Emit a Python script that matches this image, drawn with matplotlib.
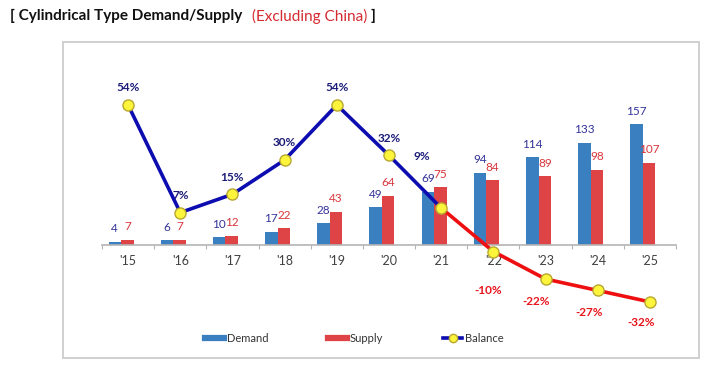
import numpy as np
import matplotlib.pyplot as plt
from matplotlib.lines import Line2D
from matplotlib.patches import Rectangle

years = ["'15", "'16", "'17", "'18", "'19", "'20", "'21", "'22", "'23", "'24", "'25"]
demand = [4, 6, 10, 17, 28, 49, 69, 94, 114, 133, 157]
supply = [7, 7, 12, 22, 43, 64, 75, 84, 89, 98, 107]
balance = [54, 7, 15, 30, 54, 32, 9, -10, -22, -27, -32]

# label offsets for the balance %, in pixels (dx, dy)
pct_off = [(0, 17)] * 6 + [(-19, 52), (-5, -39), (-9, -22), (-9, -22), (-9, -21)]

plt.rcParams['font.family'] = ['Lato', 'DejaVu Sans']

c_dem = '#3a80c0'
c_sup = '#de4446'
c_dem_txt = '#33339a'
c_sup_txt = '#d8353b'

fig = plt.figure(figsize=(7.2, 3.7), dpi=100)
W, H = 720, 370

# frame around the chart
fig.patches.append(Rectangle((63 / W, 1 - 358 / H), 636 / W, 316 / H, transform=fig.transFigure,
                             fill=False, edgecolor='#c8c8c8', linewidth=1.2))

ax = fig.add_axes([102 / W, 50 / H, 574 / W, 240 / H])
ax.set_xlim(-0.5, 10.5)
ax.set_ylim(-97.4, 214.3)

x = np.arange(len(years))
bw = 0.24
shift = -0.135
ax.bar(x + shift - bw / 2, demand, bw, color=c_dem, zorder=2)
ax.bar(x + shift + bw / 2, supply, bw, color=c_sup, zorder=2)

for i in range(len(years)):
    ax.annotate(str(demand[i]), (x[i] + shift - bw / 2, demand[i]), xytext=(0, 13 * 0.72),
                textcoords='offset points', ha='center', va='center', fontsize=8.5, color=c_dem_txt)
    ax.annotate(str(supply[i]), (x[i] + shift + bw / 2, supply[i]), xytext=(0, 13 * 0.72),
                textcoords='offset points', ha='center', va='center', fontsize=8.5, color=c_sup_txt)

for s in ['top', 'left', 'right']:
    ax.spines[s].set_visible(False)
ax.spines['bottom'].set_position(('data', 0))
ax.spines['bottom'].set_color('#b4b4b4')
ax.spines['bottom'].set_linewidth(1.2)
ax.set_yticks([])
ax.set_xticks(np.arange(-0.5, 11, 1))
ax.tick_params(axis='x', which='major', length=3, color='#b4b4b4', labelbottom=False)
ax.set_xticks(x, years, minor=True)
ax.tick_params(axis='x', which='minor', length=0, pad=7, labelsize=9, labelcolor='#404040')

ax2 = ax.twinx()
ax2.set_ylim(-39.9, 64.9)
ax2.axis('off')
ax2.plot(x[:7], balance[:7], color='#0c0cb0', lw=2.6, zorder=3, solid_capstyle='round')
ax2.plot(x[6:], balance[6:], color='#ee1010', lw=2.6, zorder=3, solid_capstyle='round')
ax2.plot(x, balance, ls='none', marker='o', ms=8, mfc='#fcf53c', mec='#b8a830', mew=1, zorder=4)

for i, b in enumerate(balance):
    dx, dy = pct_off[i]
    col = '#1c1c78' if b > 0 else '#e8141b'
    ax2.annotate(f'{b}%', (x[i], b), xytext=(dx * 0.72, dy * 0.72), textcoords='offset points',
                 ha='center', va='center', fontsize=8.5, fontweight='bold', color=col)

# title
fig.text(10 / W, 1 - 16 / H, '[ Cylindrical Type Demand/Supply', fontsize=11.0, fontweight='bold',
         color='#111111', va='center', ha='left')
fig.text(252 / W, 1 - 16 / H, '(Excluding China)', fontsize=11.0, color='#d42a30', va='center', ha='left')
fig.text(371 / W, 1 - 16 / H, ']', fontsize=11.0, fontweight='bold', color='#111111', va='center', ha='left')

handles = [Line2D([], [], color=c_dem, lw=4.5),
           Line2D([], [], color=c_sup, lw=4.5),
           Line2D([], [], color='#0c0cb0', lw=2.6, marker='o', ms=6, mfc='#fcf53c', mec='#b8a830')]
fig.legend(handles, ['Demand', 'Supply', 'Balance'], ncol=3, frameon=False,
           loc='center left', bbox_to_anchor=(205 / W, 1 - 338 / H), borderpad=0, borderaxespad=0,
           handlelength=1.7, handletextpad=0.25, columnspacing=5.4, fontsize=8,
           labelcolor='#333333')

fig.savefig('out.png', dpi=100)
